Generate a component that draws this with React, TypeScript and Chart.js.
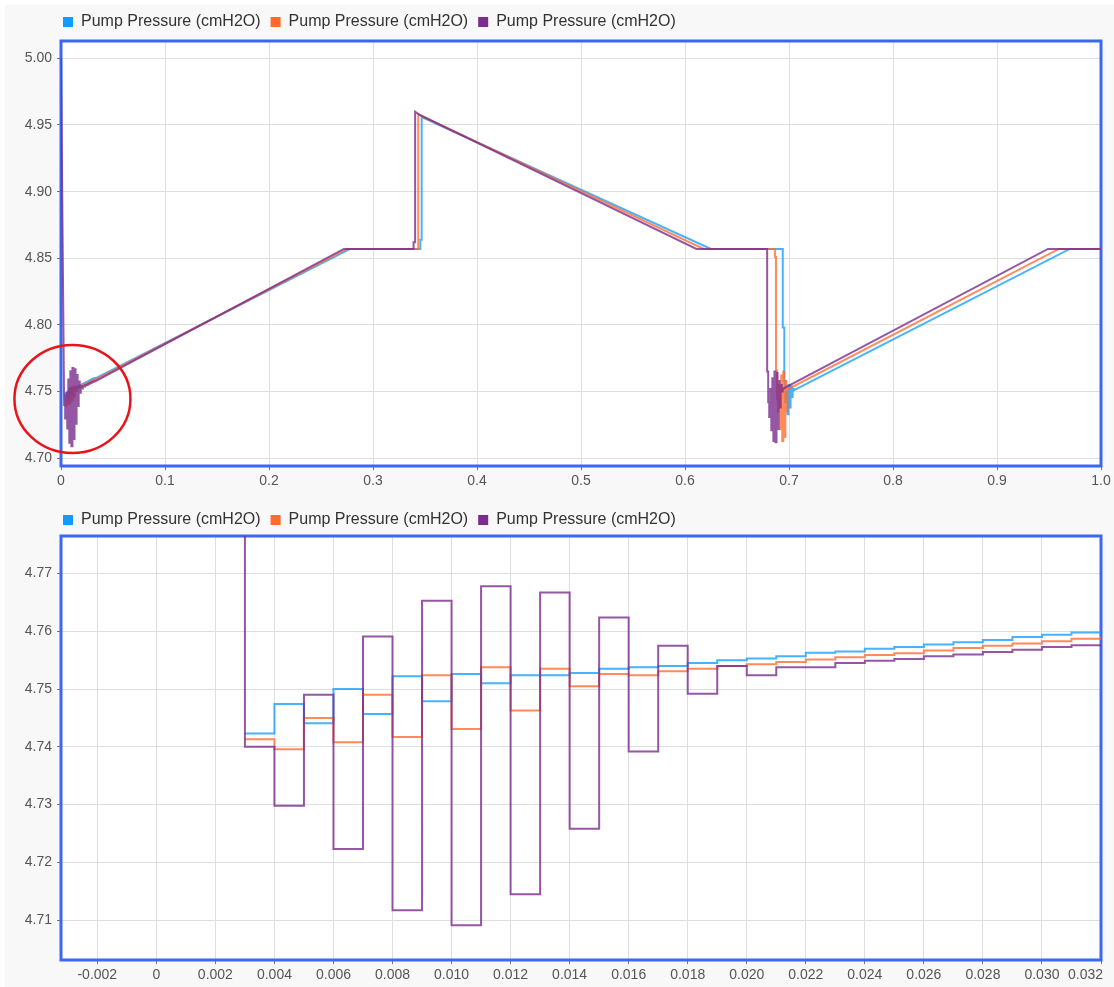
import React, { useEffect, useRef } from "react";
import { Chart, registerables } from "chart.js";

Chart.register(...registerables);

// ---------- labels & colours ----------
const SERIES_LABELS = ["Pump Pressure (cmH2O)", "Pump Pressure (cmH2O)", "Pump Pressure (cmH2O)"];
const LEGEND_COLORS = ["#139cff", "#ff6a2b", "#7b2c8c"];
const LINE_COLORS = ["rgba(19,156,255,0.78)", "rgba(255,106,43,0.78)", "rgba(123,44,140,0.8)"];

// ---------- start-up segment (one value per 0.001 step) ----------
const stepX = [
  0.003, 0.004, 0.005, 0.006, 0.007, 0.008, 0.009, 0.010, 0.011, 0.012, 0.013, 0.014, 0.015, 0.016, 0.017,
  0.018, 0.019, 0.020, 0.021, 0.022, 0.023, 0.024, 0.025, 0.026, 0.027, 0.028, 0.029, 0.030, 0.031, 0.032, 0.033,
];
const STEP_END = 0.034;
const blueStart = [
  4.7423, 4.7474, 4.7441, 4.75, 4.7457, 4.7522, 4.7479, 4.7526, 4.751, 4.7524, 4.7524, 4.7528, 4.7535, 4.7538, 4.754,
  4.7545, 4.755, 4.7553, 4.7557, 4.7563, 4.7565, 4.757, 4.7573, 4.7577, 4.7581, 4.7585, 4.759, 4.7594, 4.7598, 4.76, 4.7603,
];
const orangeStart = [
  4.7413, 4.7396, 4.745, 4.7408, 4.749, 4.7417, 4.7524, 4.7431, 4.7538, 4.7463, 4.7535, 4.7505, 4.7526, 4.7524, 4.7531,
  4.7535, 4.754, 4.7543, 4.7547, 4.7551, 4.7555, 4.7559, 4.7562, 4.7567, 4.7571, 4.7575, 4.7579, 4.7583, 4.7587, 4.759, 4.7593,
];
const purpleStart = [
  4.74, 4.7298, 4.749, 4.7223, 4.7591, 4.7117, 4.7653, 4.7091, 4.7678, 4.7145, 4.7667, 4.7258, 4.7624, 4.7392, 4.7575,
  4.7492, 4.754, 4.7524, 4.7538, 4.7538, 4.7545, 4.7549, 4.7552, 4.7557, 4.756, 4.7564, 4.7568, 4.7573, 4.7576, 4.7578, 4.7582,
];
const purpleInitX = 0;
const purpleInitY = 5.0;

// ---------- rest of the cycle (top chart) ----------
const blueMidX = [0.278, 0.3455, 0.3455, 0.3468, 0.3468, 0.625, 0.694, 0.694, 0.6955];
const blueMidY = [4.857, 4.857, 4.864, 4.864, 4.956, 4.857, 4.857, 4.798, 4.798];
const blueDropX = [0.6955, 0.6965, 0.6975, 0.6985, 0.6995, 0.7005, 0.7015, 0.7025, 0.7035];
const blueDropY = [4.758, 4.742, 4.75, 4.733, 4.755, 4.738, 4.754, 4.746, 4.752];
const blueEndX = [0.7045, 0.97, 1.0];
const blueEndY = [4.751, 4.857, 4.857];

const orangeMidX = [0.275, 0.3435, 0.3435, 0.618, 0.6866, 0.6866, 0.6875];
const orangeMidY = [4.857, 4.857, 4.958, 4.857, 4.857, 4.851, 4.851];
const orangeDropX = [0.6875, 0.6885, 0.6895, 0.6905, 0.6915, 0.6925, 0.6935, 0.6945, 0.6955, 0.6965, 0.6975, 0.6985];
const orangeDropY = [4.766, 4.744, 4.735, 4.755, 4.722, 4.762, 4.713, 4.765, 4.716, 4.758, 4.735, 4.752];
const orangeEndX = [0.6995, 0.9595, 1.0];
const orangeEndY = [4.752, 4.857, 4.857];

const purpleMidX = [0.272, 0.339, 0.339, 0.3405, 0.3405, 0.344, 0.611, 0.679];
const purpleMidY = [4.857, 4.857, 4.862, 4.862, 4.96, 4.958, 4.857, 4.857];
const purpleDropX = [0.679, 0.68, 0.681, 0.682, 0.683, 0.684, 0.685, 0.686, 0.687, 0.688, 0.689, 0.69, 0.691, 0.692, 0.693];
const purpleDropY = [4.765, 4.742, 4.731, 4.752, 4.721, 4.76, 4.713, 4.765, 4.712, 4.764, 4.722, 4.758, 4.738, 4.755, 4.75];
const purpleEndX = [0.694, 0.949, 1.0];
const purpleEndY = [4.752, 4.857, 4.857];

// highlight ring around the start-up oscillation (top chart)
const highlightCenter = { x: 0.011, y: 4.7445 };

// ---------- axes ----------
const topXTicks = [0, 0.1, 0.2, 0.3, 0.4, 0.5, 0.6, 0.7, 0.8, 0.9, 1.0];
const topXLabels = ["0", "0.1", "0.2", "0.3", "0.4", "0.5", "0.6", "0.7", "0.8", "0.9", "1.0"];
const topYTicks = [4.7, 4.75, 4.8, 4.85, 4.9, 4.95, 5.0];
const topYLabels = ["4.70", "4.75", "4.80", "4.85", "4.90", "4.95", "5.00"];
const topRange = { xMin: 0, xMax: 1, yMin: 4.6942, yMax: 5.013 };

const botXTicks = [
  -0.002, 0, 0.002, 0.004, 0.006, 0.008, 0.01, 0.012, 0.014, 0.016, 0.018, 0.02, 0.022, 0.024, 0.026, 0.028, 0.03, 0.032,
];
const botXLabels = [
  "-0.002", "0", "0.002", "0.004", "0.006", "0.008", "0.010", "0.012", "0.014", "0.016", "0.018", "0.020", "0.022",
  "0.024", "0.026", "0.028", "0.030", "0.032",
];
const botYTicks = [4.71, 4.72, 4.73, 4.74, 4.75, 4.76, 4.77];
const botYLabels = ["4.71", "4.72", "4.73", "4.74", "4.75", "4.76", "4.77"];
const botRange = { xMin: -0.00323, xMax: 0.032, yMin: 4.7031, yMax: 4.7765 };

// ---------- helpers to build the tables ----------
type P = { x: number; y: number };
function stepPoints(xs: number[], ys: number[], endX: number): P[] {
  const pts: P[] = [];
  for (let i = 0; i < xs.length; i++) {
    pts.push({ x: xs[i], y: ys[i] });
    pts.push({ x: i + 1 < xs.length ? xs[i + 1] : endX, y: ys[i] });
  }
  return pts;
}
function linePoints(xs: number[], ys: number[]): P[] {
  return xs.map((x, i) => ({ x, y: ys[i] }));
}

const FONT = "'Liberation Sans', Arial, Helvetica, sans-serif";

const bgPlugin = {
  id: "bgPlugin",
  beforeDraw(chart: any) {
    const { ctx, width, height, chartArea: a } = chart;
    ctx.save();
    ctx.fillStyle = "#f8f8f8";
    ctx.fillRect(0, 0, width, height);
    ctx.fillStyle = "#ffffff";
    ctx.fillRect(a.left, a.top, a.right - a.left, a.bottom - a.top);
    ctx.restore();
  },
  beforeDatasetsDraw(chart: any) {
    const { ctx, chartArea: a } = chart;
    ctx.save();
    ctx.strokeStyle = "#3b66f6";
    ctx.lineWidth = 3;
    ctx.strokeRect(a.left, a.top, a.right - a.left, a.bottom - a.top);
    ctx.restore();
  },
};

function makeConfig(opts: any) {
  const extras = {
    id: "extras",
    afterLayout(chart: any) {
      const lg = chart.legend;
      if (lg) {
        lg.left -= 8;
        lg.right -= 8;
        lg.top += opts.legendDy;
        lg.bottom += opts.legendDy;
      }
    },
    beforeDraw(chart: any) {
      if (!opts.lastLabelRight) return;
      const sx = chart.scales.x;
      const items = sx.getLabelItems(chart.chartArea);
      const last = items[items.length - 1];
      if (last) {
        last.options.textAlign = "right";
        last.options.translation = [last.options.translation[0] + 2, last.options.translation[1]];
      }
    },
    afterDraw(chart: any) {
      if (!opts.ring) return;
      const { ctx } = chart;
      const cx = chart.scales.x.getPixelForValue(opts.ring.x);
      const cy = chart.scales.y.getPixelForValue(opts.ring.y);
      ctx.save();
      ctx.strokeStyle = "#e8141b";
      ctx.lineWidth = 2.5;
      ctx.beginPath();
      ctx.ellipse(cx, cy, 58, 54, 0, 0, Math.PI * 2);
      ctx.stroke();
      ctx.restore();
    },
  };
  return {
    type: "line",
    data: { datasets: opts.datasets },
    plugins: [bgPlugin, extras],
    options: {
      animation: false,
      responsive: false,
      devicePixelRatio: 1,
      layout: { padding: { top: opts.padTop, right: 13, left: 0, bottom: 0 } },
      elements: { point: { radius: 0 }, line: { tension: 0 } },
      plugins: {
        tooltip: { enabled: false },
        legend: {
          display: true,
          position: "top",
          align: "start",
          fullSize: false,
          labels: {
            boxWidth: 10,
            boxHeight: 10,
            padding: 10,
            color: "#333",
            font: { family: FONT, size: 16 },
            generateLabels: (chart: any) =>
              chart.data.datasets.map((ds: any, i: number) => ({
                text: ds.label,
                fillStyle: LEGEND_COLORS[i],
                strokeStyle: LEGEND_COLORS[i],
                lineWidth: 0,
                hidden: false,
                datasetIndex: i,
                fontColor: "#333",
              })),
          },
        },
      },
      scales: {
        x: {
          type: "linear",
          min: opts.range.xMin,
          max: opts.range.xMax,
          border: { display: false },
          grid: { color: "#dedede", lineWidth: 1, tickLength: 4, tickColor: "#777", drawTicks: true },
          ticks: {
            autoSkip: false,
            maxRotation: 0,
            padding: 3,
            color: "#555",
            font: { family: FONT, size: 14 },
            callback: (_v: any, i: number) => opts.xLabels[i],
          },
          afterBuildTicks: (s: any) => {
            s.ticks = opts.xTicks.map((v: number) => ({ value: v }));
          },
          afterFit: (s: any) => {
            s.height = opts.xAxisHeight;
            s.paddingLeft = 0;
            s.paddingRight = 0;
          },
        },
        y: {
          type: "linear",
          min: opts.range.yMin,
          max: opts.range.yMax,
          border: { display: false },
          grid: { color: "#dedede", lineWidth: 1, tickLength: 4, tickColor: "#777", drawTicks: true },
          ticks: {
            autoSkip: false,
            padding: 5,
            color: "#555",
            font: { family: FONT, size: 14 },
            callback: (_v: any, i: number) => opts.yLabels[i],
          },
          afterBuildTicks: (s: any) => {
            s.ticks = opts.yTicks.map((v: number) => ({ value: v }));
          },
          afterFit: (s: any) => {
            s.width = 56;
            s.paddingTop = 0;
            s.paddingBottom = 0;
          },
        },
      },
    },
  };
}

function ChartCanvas({ config, width, height }: { config: any; width: number; height: number }) {
  const ref = useRef<HTMLCanvasElement | null>(null);
  useEffect(() => {
    if (!ref.current) return;
    const chart = new Chart(ref.current, config);
    return () => chart.destroy();
  }, [config]);
  return <canvas ref={ref} width={width} height={height} style={{ display: "block", width, height }} />;
}

const topDatasets = [
  {
    label: SERIES_LABELS[0],
    order: 2,
    borderColor: LINE_COLORS[0],
    backgroundColor: LEGEND_COLORS[0],
    borderWidth: 2,
    data: [
      ...stepPoints(stepX, blueStart, STEP_END),
      ...linePoints(blueMidX, blueMidY),
      ...stepPoints(blueDropX, blueDropY, blueEndX[0]),
      ...linePoints(blueEndX, blueEndY),
    ],
  },
  {
    label: SERIES_LABELS[1],
    order: 1,
    borderColor: LINE_COLORS[1],
    backgroundColor: LEGEND_COLORS[1],
    borderWidth: 2,
    data: [
      ...stepPoints(stepX, orangeStart, STEP_END),
      ...linePoints(orangeMidX, orangeMidY),
      ...stepPoints(orangeDropX, orangeDropY, orangeEndX[0]),
      ...linePoints(orangeEndX, orangeEndY),
    ],
  },
  {
    label: SERIES_LABELS[2],
    order: 0,
    borderColor: LINE_COLORS[2],
    backgroundColor: LEGEND_COLORS[2],
    borderWidth: 2,
    data: [
      { x: purpleInitX, y: purpleInitY },
      ...stepPoints(stepX, purpleStart, STEP_END),
      ...linePoints(purpleMidX, purpleMidY),
      ...stepPoints(purpleDropX, purpleDropY, purpleEndX[0]),
      ...linePoints(purpleEndX, purpleEndY),
    ],
  },
];

const bottomDatasets = [
  {
    label: SERIES_LABELS[0],
    order: 2,
    stepped: true,
    borderColor: LINE_COLORS[0],
    backgroundColor: LEGEND_COLORS[0],
    borderWidth: 2,
    data: linePoints(stepX, blueStart),
  },
  {
    label: SERIES_LABELS[1],
    order: 1,
    stepped: true,
    borderColor: LINE_COLORS[1],
    backgroundColor: LEGEND_COLORS[1],
    borderWidth: 2,
    data: linePoints(stepX, orangeStart),
  },
  {
    label: SERIES_LABELS[2],
    order: 0,
    stepped: true,
    borderColor: LINE_COLORS[2],
    backgroundColor: LEGEND_COLORS[2],
    borderWidth: 2,
    data: [{ x: purpleInitX, y: purpleInitY }, ...linePoints(stepX, purpleStart)],
  },
];

const topConfig = makeConfig({
  datasets: topDatasets,
  range: topRange,
  xTicks: topXTicks,
  xLabels: topXLabels,
  yTicks: topYTicks,
  yLabels: topYLabels,
  padTop: 0,
  xAxisHeight: 31,
  legendDy: -1,
  lastLabelRight: false,
  ring: highlightCenter,
});

const bottomConfig = makeConfig({
  datasets: bottomDatasets,
  range: botRange,
  xTicks: botXTicks,
  xLabels: botXLabels,
  yTicks: botYTicks,
  yLabels: botYLabels,
  padTop: 3,
  xAxisHeight: 27,
  legendDy: 2,
  lastLabelRight: true,
  ring: null,
});

export default function App() {
  return (
    <div style={{ position: "absolute", left: 5, top: 5, width: 1109, background: "#f8f8f8" }}>
      <ChartCanvas config={topConfig} width={1109} height={492} />
      <ChartCanvas config={bottomConfig} width={1109} height={490} />
    </div>
  );
}
